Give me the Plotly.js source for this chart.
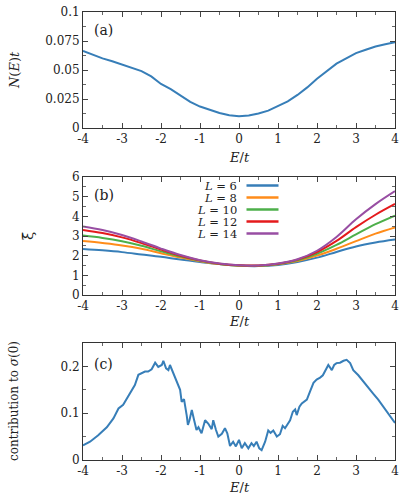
<!DOCTYPE html>
<html>
<head>
<meta charset="utf-8">
<script src="https://cdn.plot.ly/plotly-3.0.1.min.js"></script>
<style>html,body{margin:0;padding:0;background:#fff;}#chart{width:415px;height:498px;}</style>
</head>
<body>
<div id="chart"></div>
<script>
// ---- Panel (a): density of states N(E)t ----
const energyA = [-4,-3.75,-3.5,-3.25,-3,-2.75,-2.5,-2.25,-2,-1.75,-1.5,-1.25,-1,-0.75,-0.5,-0.25,0,0.25,0.5,0.75,1,1.25,1.5,1.75,2,2.25,2.5,2.75,3,3.25,3.5,3.75,4];
const dosA = [0.0665,0.063,0.060,0.0575,0.0545,0.052,0.049,0.0445,0.038,0.0335,0.028,0.0225,0.0185,0.0155,0.013,0.011,0.0102,0.0108,0.0125,0.015,0.019,0.023,0.0285,0.035,0.0425,0.049,0.0555,0.060,0.0645,0.0675,0.0703,0.0722,0.074];

// ---- Panel (b): xi-bar for several L ----
const energyB = [-4,-3.5,-3,-2.5,-2,-1.5,-1,-0.5,0,0.5,1,1.5,2,2.5,3,3.5,4];
const xiL6  = [2.34,2.27,2.18,2.06,1.94,1.80,1.68,1.57,1.49,1.47,1.53,1.68,1.90,2.19,2.47,2.67,2.82];
const xiL8  = [2.74,2.64,2.52,2.35,2.12,1.90,1.72,1.57,1.49,1.48,1.56,1.73,2.00,2.35,2.74,3.12,3.44];
const xiL10 = [3.02,2.90,2.73,2.50,2.22,1.95,1.74,1.58,1.50,1.49,1.58,1.77,2.10,2.55,3.08,3.60,4.04];
const xiL12 = [3.31,3.15,2.93,2.64,2.31,2.00,1.76,1.59,1.51,1.50,1.59,1.80,2.18,2.75,3.45,4.08,4.63];
const xiL14 = [3.48,3.30,3.05,2.72,2.36,2.03,1.77,1.60,1.51,1.50,1.60,1.82,2.25,2.95,3.85,4.62,5.28];
const legendLabels = ['<i>L</i> = 6','<i>L</i> = 8','<i>L</i> = 10','<i>L</i> = 12','<i>L</i> = 14'];
const seriesColors = ['#377eb8','#ff8c1a','#4daf4a','#e41a1c','#984ea3'];

// ---- Panel (c): contribution to sigma(0) ----
const energyC = [-4,-3.82,-3.61,-3.39,-3.22,-3.09,-2.97,-2.80,-2.67,-2.58,-2.50,-2.41,-2.33,-2.24,-2.15,-2.07,-1.98,-1.94,-1.87,-1.81,-1.77,-1.68,-1.60,-1.51,-1.47,-1.41,-1.34,-1.31,-1.27,-1.21,-1.15,-1.09,-1.04,-0.96,-0.87,-0.79,-0.70,-0.66,-0.59,-0.53,-0.44,-0.36,-0.30,-0.23,-0.15,-0.08,0,0.07,0.15,0.24,0.32,0.38,0.45,0.52,0.58,0.67,0.75,0.81,0.88,0.97,1.05,1.12,1.18,1.24,1.31,1.38,1.44,1.48,1.55,1.61,1.67,1.74,1.82,1.91,1.99,2.08,2.15,2.21,2.29,2.38,2.44,2.50,2.59,2.68,2.76,2.85,2.93,3.06,3.19,3.32,3.44,3.57,3.70,3.83,3.96,4.0];
const contribC = [0.031,0.039,0.053,0.070,0.089,0.110,0.118,0.142,0.160,0.182,0.185,0.189,0.189,0.194,0.208,0.199,0.203,0.212,0.196,0.192,0.203,0.185,0.167,0.150,0.124,0.130,0.095,0.075,0.085,0.107,0.085,0.064,0.070,0.057,0.085,0.078,0.066,0.085,0.064,0.050,0.056,0.068,0.057,0.030,0.039,0.029,0.043,0.025,0.036,0.025,0.036,0.030,0.039,0.025,0.021,0.039,0.063,0.058,0.063,0.050,0.055,0.073,0.068,0.077,0.085,0.103,0.108,0.096,0.114,0.121,0.125,0.129,0.146,0.165,0.172,0.176,0.181,0.192,0.203,0.192,0.203,0.207,0.208,0.212,0.214,0.207,0.192,0.181,0.167,0.153,0.142,0.129,0.114,0.098,0.082,0.079];

const xTickVals = [-4,-3,-2,-1,0,1,2,3,4];
const xTickText = ['-4','-3','-2','-1','0','1','2','3','4'];
const yTickValsA = [0,0.025,0.05,0.075,0.1];
const yTickTextA = ['0','0.025','0.05','0.075','0.1'];
const yTickValsB = [0,1,2,3,4,5,6];
const yTickValsC = [0,0.1,0.2];
const yTickTextC = ['0','0.1','0.2'];

const FONT = 'DejaVu Serif';
const xiSeries = [xiL6, xiL8, xiL10, xiL12, xiL14];

const traces = [
  {x: energyA, y: dosA, xaxis:'x', yaxis:'y', mode:'lines', line:{color:seriesColors[0], width:2}, showlegend:false}
];
xiSeries.forEach((s,i)=>traces.push({x: energyB, y: s, xaxis:'x2', yaxis:'y2', mode:'lines', line:{color:seriesColors[i], width:2, shape:'spline'}, showlegend:false, name:legendLabels[i]}));
traces.push({x: energyC, y: contribC, xaxis:'x3', yaxis:'y3', mode:'lines', line:{color:seriesColors[0], width:2}, showlegend:false});

function xax(anchor){
  return {anchor: anchor, range:[-4,4], tickmode:'array', tickvals:xTickVals, ticktext:xTickText,
    ticks:'inside', ticklen:5, tickcolor:'#444', showline:true, linecolor:'#333', linewidth:1, mirror:'ticks',
    showgrid:false, zeroline:false, tickfont:{family:FONT, size:12, color:'#222'},
    minor:{dtick:0.5, tick0:0, ticks:'inside', ticklen:3, tickcolor:'#666'}};
}
function yax(anchor, range, vals, text, domain, minorD){
  return {anchor: anchor, domain: domain, range: range, tickmode:'array', tickvals:vals, ticktext:text,
    ticks:'inside', ticklen:5, tickcolor:'#444', showline:true, linecolor:'#333', linewidth:1, mirror:'ticks',
    showgrid:false, zeroline:false, tickfont:{family:FONT, size:12, color:'#222'},
    minor:{dtick:minorD, tick0:0, ticks:'inside', ticklen:3, tickcolor:'#666'}};
}

const annFont = {family:FONT, size:13, color:'#222'};
const annotations = [
  {xref:'paper', yref:'paper', x:(14-83)/312, y:(460-70)/448, text:'<i>N</i>(<i>E</i>)<i>t</i>', textangle:-90, showarrow:false, font:annFont, xanchor:'center', yanchor:'middle'},
  {xref:'paper', yref:'paper', x:(28-83)/312, y:(460-236)/448, text:'ξ̄', textangle:-90, showarrow:false, font:{family:FONT, size:15, color:'#222'}, xanchor:'center', yanchor:'middle'},
  {xref:'paper', yref:'paper', x:(14-83)/312, y:(460-401)/448, text:'contribution to <i>σ</i>(0)', textangle:-90, showarrow:false, font:{family:FONT, size:12, color:'#222'}, xanchor:'center', yanchor:'middle'},
  {xref:'paper', yref:'paper', x:0.5, y:(460-157)/448, text:'<i>E</i>/<i>t</i>', showarrow:false, font:annFont, xanchor:'center', yanchor:'middle'},
  {xref:'paper', yref:'paper', x:0.5, y:(460-321)/448, text:'<i>E</i>/<i>t</i>', showarrow:false, font:annFont, xanchor:'center', yanchor:'middle'},
  {xref:'paper', yref:'paper', x:0.5, y:(460-487)/448, text:'<i>E</i>/<i>t</i>', showarrow:false, font:annFont, xanchor:'center', yanchor:'middle'},
  {xref:'x domain', yref:'y domain', x:(92-83)/312, y:(128-30)/116, text:'(a)', showarrow:false, font:{family:FONT, size:14, color:'#222'}, xanchor:'left', yanchor:'middle'},
  {xref:'x2 domain', yref:'y2 domain', x:(92-83)/312, y:(295-195)/118, text:'(b)', showarrow:false, font:{family:FONT, size:14, color:'#222'}, xanchor:'left', yanchor:'middle'},
  {xref:'x3 domain', yref:'y3 domain', x:(92-83)/312, y:(460-364)/117, text:'(c)', showarrow:false, font:{family:FONT, size:14, color:'#222'}, xanchor:'left', yanchor:'middle'}
];
const shapes = [];
const legendRows = [185.5,197.5,209.5,221.5,233.5];
legendLabels.forEach((lab,i)=>{
  const yd = (295 - legendRows[i])/118;
  annotations.push({xref:'x2 domain', yref:'y2 domain', x:(238-83)/312, y:yd, text:lab, showarrow:false, font:{family:FONT, size:11.5, color:'#222'}, xanchor:'right', yanchor:'middle', borderpad:0, height:11, valign:'middle'});
  shapes.push({type:'line', xref:'x2 domain', yref:'y2 domain', x0:(246.5-83)/312, x1:(278.5-83)/312, y0:yd, y1:yd, line:{color:seriesColors[i], width:2.5}});
});

const layout = {
  width:415, height:498,
  margin:{l:83, r:20, t:12, b:38},
  paper_bgcolor:'#fff', plot_bgcolor:'#fff',
  showlegend:false,
  font:{family:FONT, size:12, color:'#222'},
  xaxis: xax('y'),
  yaxis: yax('x', [0,0.1], yTickValsA, yTickTextA, [(460-128)/448, 1], 0.0125),
  xaxis2: xax('y2'),
  yaxis2: yax('x2', [0,6], yTickValsB, yTickValsB.map(String), [(460-295)/448, (460-177)/448], 0.5),
  xaxis3: xax('y3'),
  yaxis3: yax('x3', [0,0.25], yTickValsC, yTickTextC, [0, (460-343)/448], 0.05),
  annotations: annotations,
  shapes: shapes
};
Plotly.newPlot('chart', traces, layout, {displayModeBar:false, staticPlot:true});
</script>
</body>
</html>
